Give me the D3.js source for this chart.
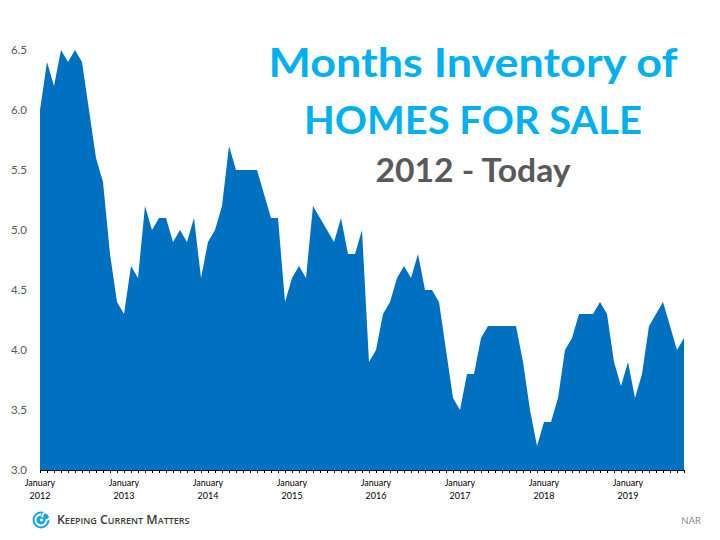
<!DOCTYPE html>
<html><head><meta charset="utf-8">
<script src="https://cdn.jsdelivr.net/npm/d3@7"></script>
<style>html,body{margin:0;padding:0;background:#fff;}svg{display:block;}</style>
</head><body>
<svg id="c" width="720" height="540"></svg>
<script>
const inventory = [
 6.0,6.4,6.2,6.5,6.4,6.5,6.4,6.0,5.6,5.4,4.8,4.4,
 4.3,4.7,4.6,5.2,5.0,5.1,5.1,4.9,5.0,4.9,5.1,4.6,
 4.9,5.0,5.2,5.7,5.5,5.5,5.5,5.5,5.3,5.1,5.1,4.4,
 4.6,4.7,4.6,5.2,5.1,5.0,4.9,5.1,4.8,4.8,5.0,3.9,
 4.0,4.3,4.4,4.6,4.7,4.6,4.8,4.5,4.5,4.4,4.0,3.6,
 3.5,3.8,3.8,4.1,4.2,4.2,4.2,4.2,4.2,3.9,3.5,3.2,
 3.4,3.4,3.6,4.0,4.1,4.3,4.3,4.3,4.4,4.3,3.9,3.7,
 3.9,3.6,3.8,4.2,4.3,4.4,4.2,4.0,4.1
];
const yTicks = [3.0,3.5,4.0,4.5,5.0,5.5,6.0,6.5];
const yearLabels = ["2012","2013","2014","2015","2016","2017","2018","2019"];
const titleLines = ["Months Inventory of","HOMES FOR SALE","2012 - Today"];

const svg = d3.select("#c");
const FONT = "Lato, 'Open Sans', sans-serif";
const x = d3.scaleLinear().domain([0, inventory.length-1]).range([40, 684]);
const y = d3.scaleLinear().domain([3.0, 6.5]).range([470, 50]);

// area
const area = d3.area().x((d,i)=>x(i)).y0(y(3.0)).y1(d=>y(d));
svg.append("path").datum(inventory).attr("d", area).attr("fill", "#0070C0");

// y labels
svg.append("g").selectAll("text").data(yTicks).join("text")
  .attr("x", 27).attr("y", d=>y(d)).attr("dy","0.35em")
  .attr("text-anchor","end").attr("fill","#595959")
  .style("font-family", FONT).style("font-size","11.5px")
  .text(d=>d.toFixed(1));

// x axis
const xAxis = d3.axisBottom(x).tickValues(d3.range(0, inventory.length)).tickSize(3).tickFormat("");
const gx = svg.append("g").attr("transform","translate(0,470)").call(xAxis);
gx.select(".domain").attr("stroke","#000").attr("stroke-width",1).attr("d","M40,0.5H684.5");
gx.selectAll(".tick line").attr("stroke","#000");
const lab = svg.append("g").selectAll("g").data(yearLabels).join("g")
  .attr("transform",(d,i)=>`translate(${x(i*12)},0)`);
lab.append("text").attr("y",486).attr("text-anchor","middle").attr("fill","#000")
  .style("font-family",FONT).style("font-size","9px").text("January");
lab.append("text").attr("y",499).attr("text-anchor","middle").attr("fill","#000")
  .style("font-family",FONT).style("font-size","9px").text(d=>d);

// titles
const tspec = [
  {t:titleLines[0], base:77, w:409, fill:"#00B0F0", size:40},
  {t:titleLines[1], base:134, w:338, fill:"#00B0F0", size:39},
  {t:titleLines[2], base:182, w:195, fill:"#595959", size:33}
];
tspec.forEach(s=>{
  svg.append("text").attr("x",473).attr("y",s.base).attr("text-anchor","middle")
    .attr("fill",s.fill).style("font-family",FONT).style("font-weight","bold")
    .style("font-size",s.size+"px")
    .attr("textLength", s.w).attr("lengthAdjust","spacingAndGlyphs")
    .text(s.t);
});

// logo
const logo = svg.append("g").attr("transform","translate(41,520)");
logo.append("circle").attr("r",8.5).attr("fill","#1AA7E0");
logo.append("path").attr("d","M0,-5.5 A5.5,5.5 0 1 0 5.5,0 A3.8,3.8 0 1 0 1.5,-2.5")
  .attr("fill","none").attr("stroke","#fff").attr("stroke-width",1.8);
logo.append("circle").attr("r",1.6).attr("fill","#fff").attr("cx",0.5).attr("cy",0);
const lt = svg.append("text").attr("x",57).attr("y",524).attr("fill","#3a3a3a")
  .style("font-family","'Open Sans', sans-serif").style("font-weight","600")
  .style("font-variant","small-caps").style("font-size","12px").text("Keeping Current Matters");
const lw = lt.node().getComputedTextLength();
if (lw>0) lt.style("font-size",(12*124/lw).toFixed(2)+"px");

svg.append("text").attr("x",701).attr("y",524).attr("text-anchor","end").attr("fill","#8c8c8c")
  .style("font-family",FONT).style("font-size","9.5px").text("NAR");
</script>
</body></html>
